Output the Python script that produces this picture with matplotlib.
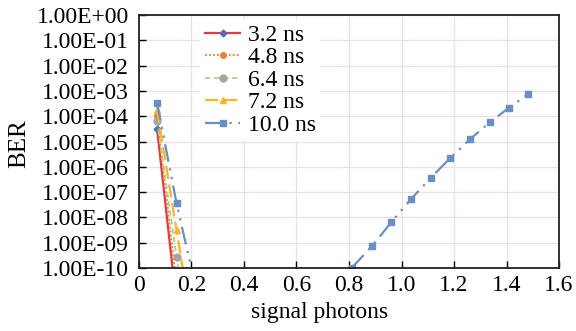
import numpy as np
import matplotlib
matplotlib.use("Agg")
import matplotlib.pyplot as plt

plt.rcParams['font.family'] = ['Liberation Serif', 'DejaVu Serif']
plt.rcParams['mathtext.fontset'] = 'stix'

labels = ["3.2 ns", "4.8 ns", "6.4 ns", "7.2 ns", "10.0 ns"]
x_32 = [0.069, 0.143]
e_32 = [-4.52, -11.4]
x_48 = [0.069, 0.143]
e_48 = [-4.00, -10.6]
x_64 = [0.069, 0.143, 0.217]
e_64 = [-4.18, -9.55, -15.0]
x_72 = [0.069, 0.143, 0.217]
e_72 = [-3.75, -8.50, -13.2]
x_100 = [0.069, 0.143, 0.217, np.nan, 0.81, 0.889, 0.961, 1.036, 1.112, 1.186, 1.261, 1.337, 1.41, 1.483]
e_100 = [-3.47, -7.44, -10.8, np.nan, -10.0, -9.12, -8.19, -7.28, -6.43, -5.65, -4.91, -4.24, -3.66, -3.13]

x_ticks = [0, 0.2, 0.4, 0.6, 0.8, 1.0, 1.2, 1.4, 1.6]
x_ticklabels = ["0", "0.2", "0.4", "0.6", "0.8", "1.0", "1.2", "1.4", "1.6"]
y_exps = list(range(0, -11, -1))
y_ticklabels = ["1.00E+00", "1.00E-01", "1.00E-02", "1.00E-03", "1.00E-04", "1.00E-05",
                "1.00E-06", "1.00E-07", "1.00E-08", "1.00E-09", "1.00E-10"]

fig = plt.figure(figsize=(5.76, 3.31), dpi=100)
ax = fig.add_axes([0.2413, 0.1903, 0.7292, 0.7644])
ax.set_yscale('log')

def p(e):
    return [10.0 ** v if not np.isnan(v) else np.nan for v in e]

ax.plot(x_32, p(e_32), color='#e8383d', lw=1.6, ls='-', marker='D', ms=3.5,
        mfc='#4f73b8', mec='#4f73b8', label=labels[0])
ax.plot(x_48, p(e_48), color='#ed7d31', lw=1.3, ls=(0, (1, 1.2)), marker='o', ms=4,
        mfc='#ed7d31', mec='#ed7d31', label=labels[1])
ax.plot(x_64, p(e_64), color='#a9d18e', lw=1.3, ls=(0, (3, 2)), marker='o', ms=5,
        mfc='#a5a5a5', mec='#a5a5a5', label=labels[2])
ax.plot(x_72, p(e_72), color='#f9b42a', lw=1.6, ls=(0, (6, 2.5)), marker='^', ms=5,
        mfc='#f9b42a', mec='#f9b42a', label=labels[3])
ax.plot(x_100, p(e_100), color='#6a8fc4', lw=1.6, ls=(0, (8, 3, 1, 3, 1, 3)), marker='s', ms=5,
        mfc='#6a8fc4', mec='#6a8fc4', label=labels[4])

ax.set_xlim(0, 1.6)
ax.set_ylim(1e-10, 1e0)
ax.set_xticks(x_ticks)
ax.set_xticklabels(x_ticklabels)
ax.set_yticks([10.0 ** e for e in y_exps])
ax.set_yticklabels(y_ticklabels)
ax.yaxis.set_minor_locator(matplotlib.ticker.NullLocator())
ax.tick_params(axis='both', direction='in', length=5, width=1, labelsize=17,
               top=False, right=False)
ax.tick_params(axis='y', pad=7)
ax.tick_params(axis='x', pad=5)
ax.grid(True, color='#ebe1e1', lw=1)
ax.set_axisbelow(True)
for s in ax.spines.values():
    s.set_linewidth(1.3)
    s.set_color('#222222')

ax.set_xlabel("signal photons", fontsize=17)
ax.xaxis.set_label_coords(0.431, -0.175, transform=ax.transAxes)
ax.xaxis.label.set_va('center')
ax.set_ylabel("BER", fontsize=18)
ax.yaxis.set_label_coords(-0.285, 0.49, transform=ax.transAxes)
ax.yaxis.label.set_va('center')

leg = ax.legend(loc='upper left', bbox_to_anchor=(0.118, 1.028), fontsize=17,
                frameon=True, framealpha=1, edgecolor='none', facecolor='white',
                handlelength=1.5, handletextpad=0.3, labelspacing=0.04,
                borderpad=0.2, fancybox=False)

fig.savefig("out.png", dpi=100)
